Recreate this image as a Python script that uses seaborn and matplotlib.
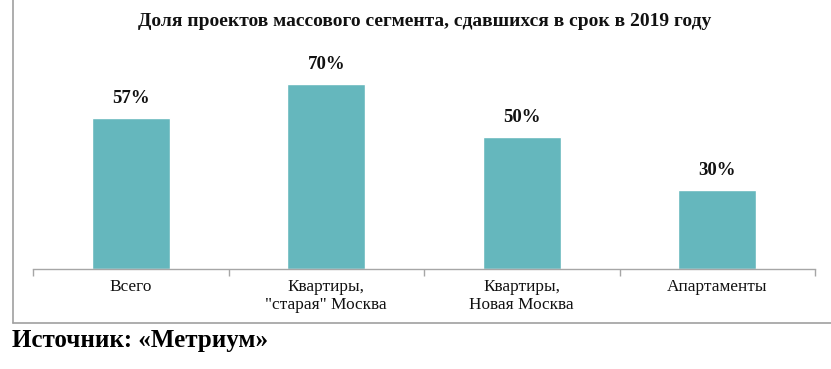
import matplotlib
matplotlib.use("Agg")
import matplotlib.pyplot as plt
import seaborn as sns
import pandas as pd
from matplotlib.lines import Line2D

categories = ["Всего", "Квартиры,\n\"старая\" Москва", "Квартиры,\nНовая Москва", "Апартаменты"]
values = [57, 70, 50, 30]
value_labels = ["57%", "70%", "50%", "30%"]
title = "Доля проектов массового сегмента, сдавшихся в срок в 2019 году"
source = "Источник: «Метриум»"

sns.set_theme(style="white")
plt.rcParams['font.family'] = ['Liberation Serif', 'DejaVu Serif']

W, H = 831, 369
fig = plt.figure(figsize=(W/100, H/100), dpi=100)
ax = fig.add_axes([33/W, 1-269/H, 782/W, 229/H])

df = pd.DataFrame({"cat": categories, "val": values})
sns.barplot(data=df, x="cat", y="val", color="#65b7bd", width=0.4, saturation=1, ax=ax)

ax.set_ylim(0, 86.7)
ax.set_xlim(-0.5, 3.5)
for i, (v, lab) in enumerate(zip(values, value_labels)):
    ax.text(i, v + 4.2, lab, ha="center", va="bottom", fontsize=13.5, fontweight="bold", color="#111111")

for s in ["top", "right", "left"]:
    ax.spines[s].set_visible(False)
ax.spines["bottom"].set_color("#a6a6a6")
ax.spines["bottom"].set_linewidth(1.0)
ax.set_yticks([])
ax.set_xlabel("")
ax.set_ylabel("")
ax.set_xticks(range(4))
ax.set_xticklabels(categories, fontsize=12.4, color="#111111", linespacing=1.15)
ax.tick_params(axis="x", which="major", length=0, pad=7)
ax.set_xticks([-0.5, 0.5, 1.5, 2.5, 3.5], minor=True)
ax.tick_params(axis="x", which="minor", length=5, color="#a6a6a6", width=1, bottom=True)

fig.text(425/W, 1-22/H, title, ha="center", va="center", fontsize=14, fontweight="bold", color="#111111")
fig.text(12/W, 1-341/H, source, ha="left", va="center", fontsize=18, fontweight="bold", color="#000000")

fig.lines.append(Line2D([12.5/W, 12.5/W], [1.0, 1-323/H], transform=fig.transFigure, color="#a0a0a0", linewidth=1.2))
fig.lines.append(Line2D([12.5/W, 1.0], [1-323/H, 1-323/H], transform=fig.transFigure, color="#a0a0a0", linewidth=1.2))

fig.savefig("out.png", dpi=100)
